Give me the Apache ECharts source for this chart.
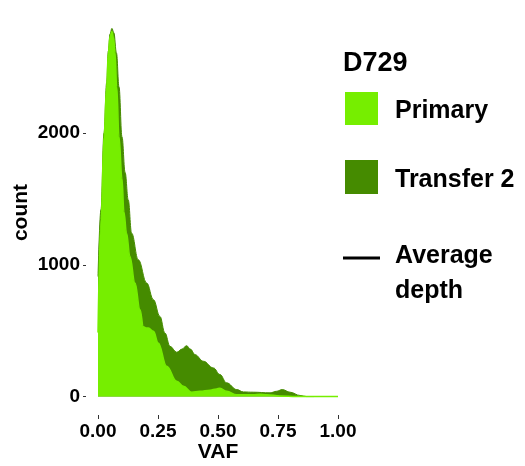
<!DOCTYPE html>
<html>
<head>
<meta charset="utf-8">
<script src="https://cdn.jsdelivr.net/npm/echarts@6/dist/echarts.min.js"></script>
<style>
html,body{margin:0;padding:0;background:#fff;}
#chart{width:525px;height:466px;}
</style>
</head>
<body>
<div id="chart"></div>
<script>
// ---- data ----
var legendTitle = 'D729';
var seriesNames = ['Primary', 'Transfer 2', 'Average depth'];
var xTickValues = [0, 0.25, 0.5, 0.75, 1.0];
var yTickValues = [0, 1000, 2000];

var primaryX = [0, 0.0125, 0.025, 0.036, 0.043, 0.05, 0.058, 0.065, 0.071, 0.078, 0.0875, 0.1, 0.108, 0.119, 0.133, 0.154, 0.175, 0.189, 0.2, 0.21, 0.231, 0.251, 0.286, 0.328, 0.356, 0.39, 0.425, 0.467, 0.494, 0.508, 0.536, 0.578, 0.647, 0.675, 0.703, 0.758, 0.828, 0.9, 1.0];
var primaryY = [485, 1340, 1970, 2350, 2606, 2730, 2770, 2720, 2606, 2350, 1970, 1650, 1400, 1240, 1063, 861, 659, 530, 520, 520, 495, 407, 230, 116, 78, 33, 40, 48, 58, 63, 40, 13, 13, 18, 13, 5, 0, 0, 0];

var transferX = [0, 0.0125, 0.025, 0.036, 0.043, 0.05, 0.058, 0.066, 0.077, 0.0875, 0.1, 0.113, 0.126, 0.14, 0.168, 0.203, 0.231, 0.258, 0.279, 0.3, 0.328, 0.35, 0.369, 0.385, 0.404, 0.439, 0.481, 0.508, 0.536, 0.578, 0.606, 0.647, 0.717, 0.744, 0.768, 0.8, 0.842, 0.869, 0.9];
var transferY = [911, 1420, 2000, 2380, 2620, 2750, 2793, 2760, 2606, 2350, 1970, 1700, 1492, 1240, 1038, 861, 735, 608, 482, 381, 336, 360, 386, 360, 318, 268, 217, 167, 104, 53, 35, 33, 28, 40, 53, 33, 8, 0, 0];

var colPrimary = '#76EE00';
var colTransfer = '#458B00';

function pairs(xs, ys) { return xs.map(function (x, i) { return [x, ys[i]]; }); }

var chart = echarts.init(document.getElementById('chart'), null, {renderer: 'canvas'});
var FONT = 'Liberation Sans';
var option = {
  animation: false,
  backgroundColor: '#ffffff',
  grid: {left: 86, right: 175, top: 10, bottom: 51, containLabel: false, outerBoundsMode: 'none'},
  xAxis: {
    type: 'value', min: -0.05, max: 1.05,
    name: 'VAF', nameLocation: 'middle', nameGap: 27, nameMoveOverlap: false,
    nameTextStyle: {fontFamily: FONT, fontSize: 21, fontWeight: 'bold', color: '#000'},
    axisLine: {show: false, onZero: false},
    splitLine: {show: false},
    axisTick: {show: true, customValues: xTickValues, length: 4, lineStyle: {color: '#333', width: 1}},
    axisLabel: {customValues: xTickValues, margin: 7, fontFamily: FONT, fontSize: 19, fontWeight: 'bold', color: '#000',
      formatter: function (v) { return Number(v).toFixed(2); }}
  },
  yAxis: {
    type: 'value', min: -140, max: 2933,
    name: 'count', nameLocation: 'middle', nameGap: 54, nameRotate: 90, nameMoveOverlap: false,
    nameTextStyle: {fontFamily: FONT, fontSize: 21, fontWeight: 'bold', color: '#000'},
    axisLine: {show: false, onZero: false},
    splitLine: {show: false},
    axisTick: {show: true, customValues: yTickValues, length: 3, lineStyle: {color: '#333', width: 1}},
    axisLabel: {customValues: yTickValues, margin: 6, fontFamily: FONT, fontSize: 19, fontWeight: 'bold', color: '#000',
      formatter: function (v) { return String(Math.round(v)); }}
  },
  series: [
    {
      name: seriesNames[1], type: 'line', data: pairs(transferX, transferY),
      smooth: 0.4, smoothMonotone: 'x', symbol: 'none',
      lineStyle: {color: colTransfer, width: 1},
      areaStyle: {color: colTransfer, opacity: 1, origin: 0},
      z: 2
    },
    {
      name: seriesNames[0], type: 'line', data: pairs(primaryX, primaryY),
      smooth: 0.4, smoothMonotone: 'x', symbol: 'none',
      lineStyle: {color: colPrimary, width: 1.5},
      areaStyle: {color: colPrimary, opacity: 1, origin: 0},
      z: 3
    }
  ],
  graphic: [
    {type: 'text', x: 343, y: 63.5, style: {text: legendTitle, font: 'bold 27px "Liberation Sans"', fill: '#000', verticalAlign: 'middle'}},
    {type: 'rect', shape: {x: 345, y: 92, width: 33, height: 33}, style: {fill: colPrimary}},
    {type: 'text', x: 395, y: 111.5, style: {text: seriesNames[0], font: 'bold 25px "Liberation Sans"', fill: '#000', verticalAlign: 'middle'}},
    {type: 'rect', shape: {x: 345, y: 160, width: 33, height: 34}, style: {fill: colTransfer}},
    {type: 'text', x: 395, y: 180, style: {text: seriesNames[1], font: 'bold 25px "Liberation Sans"', fill: '#000', verticalAlign: 'middle'}},
    {type: 'line', shape: {x1: 343, y1: 258, x2: 380, y2: 258}, style: {stroke: '#000', lineWidth: 3}},
    {type: 'text', x: 395, y: 256, style: {text: 'Average', font: 'bold 25px "Liberation Sans"', fill: '#000', verticalAlign: 'middle'}},
    {type: 'text', x: 395, y: 291, style: {text: 'depth', font: 'bold 25px "Liberation Sans"', fill: '#000', verticalAlign: 'middle'}}
  ]
};
chart.setOption(option);
</script>
</body>
</html>
